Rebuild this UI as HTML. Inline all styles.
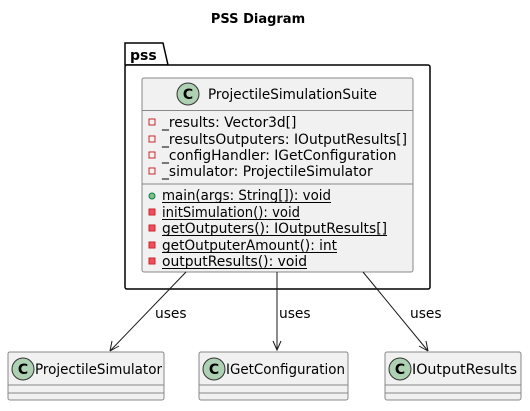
<!DOCTYPE html>
<html><head><meta charset="utf-8"><style>
body{margin:0;background:#fff}
svg text{font-family:"DejaVu Sans","Liberation Sans",sans-serif;font-size:13.8px;fill:#000}
</style></head><body>
<svg width="530" height="406" viewBox="0 0 530 406" xmlns="http://www.w3.org/2000/svg">
<text x="258" y="23" text-anchor="middle" font-weight="bold" style="font-size:13px">PSS Diagram</text>
<path d="M125,65 L125,43 L163,43 L168,65 Z" fill="#fff" stroke="#000" stroke-width="1.5"/>
<rect x="125" y="65" width="305" height="224" rx="2" fill="#fff" stroke="#000" stroke-width="1.5"/>
<text x="130" y="60" font-weight="bold" style="font-size:14px">pss</text>
<rect x="142" y="78" width="271" height="194" rx="2" fill="#f1f1f1" stroke="#888" stroke-width="1"/>
<line x1="142" y1="110.5" x2="413" y2="110.5" stroke="#888"/>
<line x1="142" y1="184" x2="413" y2="184" stroke="#888"/>
<circle cx="188" cy="94" r="11" fill="#add1b2" stroke="#333"/>
<text x="188" y="99" text-anchor="middle" font-weight="bold" style="font-size:14px">C</text>
<text x="208" y="99" textLength="169" lengthAdjust="spacingAndGlyphs">ProjectileSimulationSuite</text>
<g fill="none" stroke="#c82930"><rect x="149" y="119" width="6" height="6"/><rect x="149" y="136" width="6" height="6"/><rect x="149" y="152" width="6" height="6"/><rect x="149" y="168" width="6" height="6"/></g>
<text x="162" y="127">_results: Vector3d[]</text>
<text x="162" y="144" textLength="245" lengthAdjust="spacingAndGlyphs">_resultsOutputers: IOutputResults[]</text>
<text x="162" y="160">_configHandler: IGetConfiguration</text>
<text x="162" y="176">_simulator: ProjectileSimulator</text>
<circle cx="152" cy="196" r="3" fill="#84be84" stroke="#038048"/>
<g fill="#f24d5c" stroke="#c82930"><rect x="149" y="209" width="6" height="6"/><rect x="149" y="225" width="6" height="6"/><rect x="149" y="242" width="6" height="6"/><rect x="149" y="258" width="6" height="6"/></g>
<text x="162" y="200" textLength="169" lengthAdjust="spacingAndGlyphs">main(args: String[]): void</text>
<text x="162" y="217" textLength="138" lengthAdjust="spacingAndGlyphs">initSimulation(): void</text>
<text x="162" y="233" textLength="225" lengthAdjust="spacingAndGlyphs">getOutputers(): IOutputResults[]</text>
<text x="162" y="250" textLength="175" lengthAdjust="spacingAndGlyphs">getOutputerAmount(): int</text>
<text x="162" y="266" textLength="145" lengthAdjust="spacingAndGlyphs">outputResults(): void</text>
<g stroke="#000" stroke-width="1">
<line x1="162" y1="202.5" x2="331" y2="202.5"/>
<line x1="162" y1="219.5" x2="300" y2="219.5"/>
<line x1="162" y1="235.5" x2="387" y2="235.5"/>
<line x1="162" y1="252.5" x2="337" y2="252.5"/>
<line x1="162" y1="268.5" x2="307" y2="268.5"/>
</g>
<g stroke="#181818" stroke-width="1" fill="none">
<line x1="186" y1="272" x2="110" y2="351"/>
<line x1="277" y1="272" x2="277" y2="350"/>
<line x1="363" y1="272" x2="428" y2="351"/>
<path d="M110,351 L112,341 M110,351 L119,346"/>
<path d="M273,341 L277,350 L281,341"/>
<path d="M428,351 L419,346 M428,351 L426,341"/>
</g>
<text x="155" y="318">uses</text>
<text x="279" y="318">uses</text>
<text x="410" y="318">uses</text>
<g fill="#f1f1f1" stroke="#888">
<rect x="8" y="352" width="156" height="48" rx="2"/>
<rect x="199" y="352" width="149" height="48" rx="2"/>
<rect x="385" y="352" width="136" height="48" rx="2"/>
</g>
<g stroke="#888">
<line x1="8" y1="385" x2="164" y2="385"/><line x1="8" y1="393" x2="164" y2="393"/>
<line x1="199" y1="385" x2="348" y2="385"/><line x1="199" y1="393" x2="348" y2="393"/>
<line x1="385" y1="385" x2="521" y2="385"/><line x1="385" y1="393" x2="521" y2="393"/>
</g>
<g fill="#add1b2" stroke="#333">
<circle cx="23" cy="369" r="11"/><circle cx="214" cy="369" r="11"/><circle cx="400" cy="369" r="11"/>
</g>
<text x="23" y="374" text-anchor="middle" font-weight="bold" style="font-size:14px">C</text>
<text x="214" y="374" text-anchor="middle" font-weight="bold" style="font-size:14px">C</text>
<text x="400" y="374" text-anchor="middle" font-weight="bold" style="font-size:14px">C</text>
<text x="35" y="374" textLength="127" lengthAdjust="spacingAndGlyphs">ProjectileSimulator</text>
<text x="226" y="374" textLength="119" lengthAdjust="spacingAndGlyphs">IGetConfiguration</text>
<text x="412" y="374" textLength="105" lengthAdjust="spacingAndGlyphs">IOutputResults</text>
</svg>
</body></html>
